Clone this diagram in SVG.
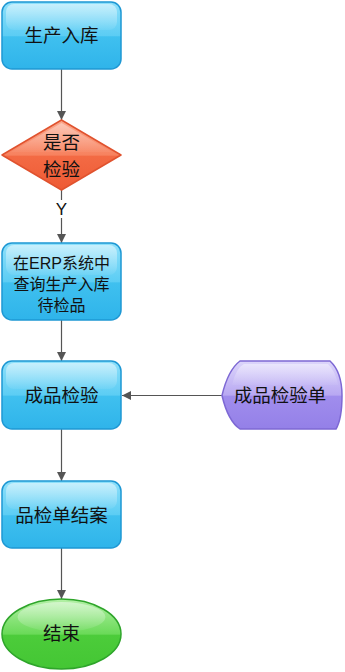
<svg xmlns="http://www.w3.org/2000/svg" width="345" height="672" viewBox="0 0 345 672">
<style>
text{font-family:"Liberation Sans","Noto Sans CJK SC",sans-serif;fill:#111;text-anchor:middle}
.t18{font-size:18.5px}
.t16{font-size:16px}
.ty{font-size:17px}
.blue{fill:url(#gBlue);stroke:#1e98d4;stroke-width:1.5}
.hl{fill:url(#gHl)}
.conn{stroke:#555;stroke-width:1.2;fill:none;marker-end:url(#arr)}
</style>
<defs>
<linearGradient id="gBlue" x1="0" y1="0" x2="0" y2="1">
<stop offset="0" stop-color="#8fe0fa"/><stop offset="0.5" stop-color="#5ccdf4"/><stop offset="0.52" stop-color="#3fc0ef"/><stop offset="1" stop-color="#2fb4ea"/>
</linearGradient>
<linearGradient id="gRed" x1="0" y1="0" x2="0" y2="1">
<stop offset="0" stop-color="#fba78c"/><stop offset="0.5" stop-color="#f7825f"/><stop offset="0.52" stop-color="#f36a44"/><stop offset="1" stop-color="#ee5a34"/>
</linearGradient>
<linearGradient id="gPurple" x1="0" y1="0" x2="0" y2="1">
<stop offset="0" stop-color="#ddd6fb"/><stop offset="0.5" stop-color="#b8a8f2"/><stop offset="0.52" stop-color="#a08ded"/><stop offset="1" stop-color="#9480e8"/>
</linearGradient>
<linearGradient id="gGreen" x1="0" y1="0" x2="0" y2="1">
<stop offset="0" stop-color="#b3f0a6"/><stop offset="0.5" stop-color="#6ada58"/><stop offset="0.52" stop-color="#4ccc3a"/><stop offset="1" stop-color="#44c634"/>
</linearGradient>
<linearGradient id="gHl" x1="0" y1="0" x2="0" y2="1">
<stop offset="0" stop-color="#fff" stop-opacity="0.85"/><stop offset="1" stop-color="#fff" stop-opacity="0.1"/>
</linearGradient>
<marker id="arr" viewBox="0 0 10 10" refX="10" refY="5" markerWidth="9" markerHeight="9" markerUnits="userSpaceOnUse" orient="auto">
<path d="M0,0 L10,5 L0,10 z" fill="#555"/>
</marker>
</defs>
<g id="connectors">
<line class="conn" x1="61.5" y1="69" x2="61.5" y2="120"/>
<line x1="61.5" y1="190" x2="61.5" y2="200" stroke="#555" stroke-width="1.2"/>
<line class="conn" x1="61.5" y1="218" x2="61.5" y2="243"/>
<text x="61.5" y="215" class="ty">Y</text>
<line class="conn" x1="61.5" y1="320" x2="61.5" y2="361"/>
<line class="conn" x1="222" y1="395.5" x2="122" y2="395.5"/>
<line class="conn" x1="61.5" y1="429" x2="61.5" y2="481"/>
<line class="conn" x1="61.5" y1="548" x2="61.5" y2="599"/>
</g>
<g id="n1">
<rect class="blue" x="2" y="2" width="119" height="67" rx="10"/>
<rect class="hl" x="6" y="4" width="111" height="26" rx="8" opacity="0.6"/>
<text class="t18" x="61.5" y="42">生产入库</text>
</g>
<g id="n2">
<path d="M61.5,120 L121,155 L61.5,190 L2,155 Z" fill="url(#gRed)" stroke="#e0522e" stroke-width="1.5" stroke-linejoin="round"/>
<path d="M61.5,123 L112,152 L11,152 Z" fill="url(#gHl)" opacity="0.45"/>
<text class="t18" x="61.5" y="149">是否</text>
<text class="t18" x="61.5" y="176">检验</text>
</g>
<g id="n3">
<rect class="blue" x="2" y="243" width="119" height="77" rx="10"/>
<rect class="hl" x="6" y="245" width="111" height="30" rx="8" opacity="0.6"/>
<text class="t16" x="61.5" y="269">在ERP系统中</text>
<text class="t16" x="61.5" y="290">查询生产入库</text>
<text class="t16" x="61.5" y="311">待检品</text>
</g>
<g id="n4">
<rect class="blue" x="2" y="361" width="119" height="68" rx="10"/>
<rect class="hl" x="6" y="363" width="111" height="26" rx="8" opacity="0.6"/>
<text class="t18" x="61.5" y="402">成品检验</text>
</g>
<g id="n5">
<path d="M222,395.5 Q228,370 240,361 L330,361 Q342,372 342,395.5 Q342,419 336,429 L240,429 Q228,421 222,395.5 Z" fill="url(#gPurple)" stroke="#7d68d4" stroke-width="1.5"/>
<path d="M232,385 Q236,368 244,364 L328,364 Q336,372 338,385 Z" fill="url(#gHl)" opacity="0.5"/>
<text class="t18" x="280" y="402">成品检验单</text>
</g>
<g id="n6">
<rect class="blue" x="2" y="481" width="119" height="67" rx="10"/>
<rect class="hl" x="6" y="483" width="111" height="26" rx="8" opacity="0.6"/>
<text class="t18" x="61.5" y="522">品检单结案</text>
</g>
<g id="n7">
<ellipse cx="61.5" cy="634" rx="59.5" ry="35" fill="url(#gGreen)" stroke="#2ea52a" stroke-width="1.5"/>
<ellipse cx="61.5" cy="617" rx="44" ry="15" fill="url(#gHl)" opacity="0.55"/>
<text class="t18" x="61.5" y="640">结束</text>
</g>
</svg>
